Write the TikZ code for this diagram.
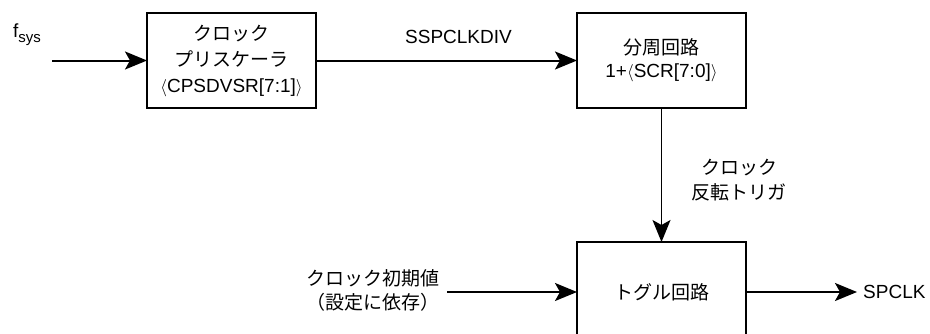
\documentclass[tikz,border=0pt]{standalone}
\usepackage{fontspec}
\setmainfont{Liberation Sans}
\newfontfamily\jp{Noto Sans CJK JP}
\usetikzlibrary{arrows.meta,positioning}
\tikzset{
  blk/.style={draw=black,line width=2pt,outer sep=0pt,inner sep=0pt,
    minimum width=169pt,minimum height=95pt,align=center,
    font=\fontsize{19}{26}\selectfont},
  lbl/.style={inner sep=0pt,align=center,font=\fontsize{19}{24}\selectfont},
  sig/.style={-{Stealth[length=22pt,width=18pt,inset=5pt]},line width=2pt},
}

\begin{document}
\begin{tikzpicture}[x=1pt,y=-1pt]
  \useasboundingbox (0,0) rectangle (930,333);
  \clip (0,0) rectangle (930,333);

  \node[blk] (pre) at (231.5,60.5) {\jp クロック\\\jp プリスケーラ\\\rmfamily$\langle$CPSDVSR[7:1]$\rangle$};
  \node[blk,right=261pt of pre,font=\fontsize{19}{23}\selectfont] (div) {\jp 分周回路\\\rmfamily 1+$\langle$SCR[7:0]$\rangle$};
  \node[blk,below=134pt of div,minimum height=100pt] (tog) {\jp トグル回路};

  \coordinate[left=95pt of pre.west] (fin);
  \coordinate[left=130pt of tog.west] (initin);
  \coordinate[right=111pt of tog.east] (spout);

  \node[lbl] (fsys) at (27,35) {f\raisebox{-5pt}{\fontsize{15}{15}\selectfont sys}};
  \node[lbl] (clkdiv) at (458.5,37) {SSPCLKDIV};
  \node[lbl,font=\fontsize{19}{25}\selectfont] (trig) at (739,180.5) {\jp クロック\\\jp 反転トリガ};
  \node[lbl,anchor=east] (init) at ([xshift=-7pt,yshift=2pt]initin) {\jp クロック初期値\\\jp （設定に依存）};
  \node[lbl,right=6pt of spout] (spclk) {SPCLK};

  \draw[sig] (fin) -- (pre);
  \draw[sig] (pre) -- (div);
  \draw[sig,line width=1.6pt] (div) -- (tog);
  \draw[sig] (initin) -- (tog);
  \draw[sig] (tog) -- (spout);
\end{tikzpicture}
\end{document}
